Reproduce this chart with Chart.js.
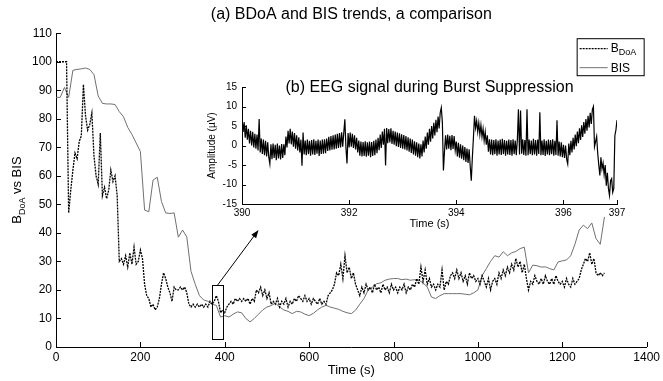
<!DOCTYPE html>
<html>
<head>
<meta charset="utf-8">
<script src="https://cdn.jsdelivr.net/npm/chart.js@4.4.1/dist/chart.umd.min.js"></script>
<style>
  html, body { margin: 0; padding: 0; background: #fff; }
  #wrap { position: relative; width: 663px; height: 381px; }
  #main { position: absolute; left: 0; top: 0; }
  #inset { position: absolute; left: 190px; top: 70px; }
</style>
</head>
<body>
<div id="wrap">
  <canvas id="main" width="663" height="381"></canvas>
  <canvas id="inset" width="440" height="165"></canvas>
</div>
<script>
const FONT = '"Liberation Sans", Arial, Helvetica, sans-serif';

// B_DoA, one reading every 5 s from 0 s
const bdoaStep = 5;
const bdoa = [
  100,100,100,100,100,100,47,55,62,68,66,72,74,92,81,76,78,82,67,60,
  57,75,53,56,52,55,62,58,60,53,30,31,29,32,28,33,29,35,29,30,
  34,31,22,18,17,14,15,13,14,17,22,26,24,21,19,16,21,20,20,21,
  20,21,19,15,14,15,14,15,14,15,14,15,14,16,15,16,18,16,12,13,
  12,14,15,16,15,17,16,17,16,17,16,17,15,17,16,20,19,21,18,20,
  17,19,15,16,15,17,14,16,15,17,14,16,15,17,16,18,17,16,18,16,
  17,15,17,16,15,17,15,16,15,18,19,20,22,26,25,29,24,32,26,28,
  24,26,22,20,18,21,19,22,20,21,19,22,20,21,19,22,20,21,19,22,
  20,21,19,21,20,22,19,21,20,22,21,24,22,28,23,27,22,24,21,22,
  20,22,21,27,20,23,22,25,26,24,27,24,26,23,25,22,26,24,25,23,
  24,22,25,23,21,24,20,23,24,22,26,24,27,25,28,26,29,27,31,28,
  30,26,29,24,20,23,22,25,23,22,24,22,25,23,22,24,22,25,23,22,
  23,21,24,22,21,24,22,23,24,27,29,31,30,33,29,31,26,25,26,25,
  26
];

// BIS, one reading every 10 s from 0 s
const bisStep = 10;
const bis = [
  87.5,87.5,91,87.5,97,97.3,97.5,97.8,97.3,95.5,
  88,85.4,85.2,85.2,85,82.5,80.7,77,74.5,71.5,
  68.5,48,47.4,58.5,59.5,51,47,46.8,47,38.5,
  41,38.6,26.5,22,18,16.5,16,15,14.6,10.5,
  11,10.5,11.5,12.3,12,10,8.8,10,11.5,13,
  14,14.5,15.4,14,13,12.5,11.7,12.5,12.3,11.5,
  11,11.8,13,14,14.6,14,13.6,13.2,12.5,12,
  11.7,12.9,15,17,20,21,22.2,22.5,23.4,23.8,
  24,24,23.6,23.8,23.4,23.6,23.4,22.5,21,17.5,
  17,18,18.7,18.7,18.7,18.7,18.7,18.5,18.3,19,
  20,25,27.5,30,32,31.5,33.4,32,33,33.5,
  34.5,35,26,28.7,28.5,28,28.1,27.5,27,29.8,
  30.2,30.5,32,36,41,42.7,41.5,43.5,38,36,
  45.6
];

const timeTicks = [0, 200, 400, 600, 800, 1000, 1200, 1400];
const levelTicks = [0, 10, 20, 30, 40, 50, 60, 70, 80, 90, 100, 110];

// EEG during burst suppression, one sample every 0.02 s from 390 s
const eegStart = 390;
const eegStep = 0.02;
const eeg = [
  7,3.5,6,2,5.2,1.5,4.3,0.5,3.8,0,3.5,-0.5,3,-0.8,2.8,-1.3,6.8,-1.8,1.8,-2.2,1.5,-2.5,1.2,-2.8,0.8,
  -3,-4.7,0.3,-3.5,0.5,-3.2,0.2,-3.8,0.5,-3.3,0,-3.6,0.4,-3.2,0.3,-2.5,2.3,-0.5,3.8,0.5,4.3,0.3,3.6,-0.3,3.2,
  -0.8,2.6,-1.3,2.1,-1.8,1.5,-5.2,3.3,-2.3,1.3,-2.5,1.5,-2.2,1.2,-2.6,1.4,-2.3,1.6,-2.4,1.2,-2.1,1.5,-2.7,1.3,-2.2,
  1.5,-2.1,1.6,-2,1.8,-1.4,2.2,-1.3,2.4,-1.1,2.6,-1,2.8,-0.8,3,-0.6,3.2,-0.5,3.4,-0.3,3.3,6.7,-0.5,-4.6,3.2,
  -0.5,3.3,-0.3,3,-0.6,2.6,-1,2,-1.8,1.3,-2.6,1,-2.8,0.9,-2.7,1.1,-2.9,0.8,-2.6,1,-3,0.9,-2.7,1.2,-2.5,
  1.5,-2,2,-1.2,2.8,-0.6,3.6,0.2,4.3,-5.1,4.5,0.6,4.2,0.8,4.4,0.4,3.8,0.2,3.6,-0.2,3.3,-0.4,3.1,-0.6,2.9,
  -0.8,2.7,-1,2.4,-1.3,2.1,-1.6,1.8,-1.9,1.5,-2.3,1.1,-2.6,0.8,-3,0.5,-3.3,0.3,-2.8,1.3,-1.8,2.3,-0.8,3.3,0.2,
  4.3,1,5,1.8,5.8,2.6,6.6,3.4,7.4,4.4,8.4,9.7,6,-6.4,-1.5,2.6,-1,2.8,-0.8,2.5,-1.2,2.7,-0.9,2.4,-1.2,
  1,-2.8,0.7,-3.1,0.3,-3.4,0,-3.8,-0.4,-4.2,-0.8,-4.5,-1,-5.3,-9,-3,2,7.6,4.5,6.3,3.5,5.8,2.8,5.2,2.2,
  4.3,1.2,3.5,0.2,2.6,-1.6,1.6,-2.3,1.5,-2.5,1.4,-2.2,1.6,-2.6,1.3,-2.3,1.5,-2.4,1.7,-2.2,1.4,-2.6,1.2,-2.3,1.5,
  -2.4,1.4,-2.6,1.6,-2.2,1.3,-2.5,1.5,9.3,-2.3,9,-2.1,1.6,-2.4,1.4,-2.6,9.3,-2.5,1.5,-2.2,1.3,-2.5,1.7,-2.3,1.4,
  -2.6,1.5,-2.2,8.5,-2.5,1.3,-2.4,1.6,-2.7,1.2,-2.3,1.5,-2.5,1.4,-2.2,1.6,-2.6,1.2,-2.4,6.5,-2.6,1,-2.8,0.8,-3,
  0.2,-3.2,0,-3.5,-4.7,0.5,-2.5,1.2,-1.8,2,-1,2.8,-0.2,3.6,0.6,4.4,1.4,5.2,2.2,6,3,6.8,3.8,7.6,4.6,
  8.4,5.5,9.2,10,-0.3,1,2.3,-2,-5,-7.7,-3,-6,-4.5,-7.5,-5,-10.3,-7,-11,-12.8,-9,-8.5,-12,-11,2.5,4,
  6.5
];
const eegTimeTicks = [390, 392, 394, 396, 397];
const eegAmpTicks = [-15, -10, -5, 0, 5, 10, 15];

// window shown in the inset: [t from, t to, low, high], arrow head at [t, value]
const zoomBox = [370, 395, 2.8, 21.6];
const arrowTo = [480, 41];

const toPoints = (vals, start, step) =>
  vals.map((v, i) => ({ x: +(start + i * step).toFixed(3), y: v }));

// MATLAB style ticks pointing into the plot
const inwardTicks = {
  id: 'inwardTicks',
  afterDraw(chart, args, opts) {
    const { ctx, chartArea } = chart;
    const xs = chart.scales.x, ys = chart.scales.y;
    const len = opts.len || 5;
    ctx.save();
    ctx.strokeStyle = '#000';
    ctx.lineWidth = 1;
    ctx.beginPath();
    xs.ticks.forEach(t => {
      const px = Math.round(xs.getPixelForValue(t.value)) + 0.5;
      ctx.moveTo(px, chartArea.bottom);
      ctx.lineTo(px, chartArea.bottom - len);
    });
    ys.ticks.forEach(t => {
      const py = Math.round(ys.getPixelForValue(t.value)) + 0.5;
      ctx.moveTo(chartArea.left, py);
      ctx.lineTo(chartArea.left + len, py);
    });
    ctx.stroke();
    ctx.restore();
  }
};

// y label with subscript, legend box, zoom window and arrow
const mainDecor = {
  id: 'mainDecor',
  afterDraw(chart) {
    const { ctx, chartArea } = chart;
    const xs = chart.scales.x, ys = chart.scales.y;
    ctx.save();
    ctx.fillStyle = '#000';

    // y axis label
    ctx.save();
    ctx.translate(21, (chartArea.top + chartArea.bottom) / 2);
    ctx.rotate(-Math.PI / 2);
    ctx.textBaseline = 'alphabetic';
    ctx.font = '13px ' + FONT;
    const wB = ctx.measureText('B').width;
    const wRest = ctx.measureText(' vs BIS').width;
    ctx.font = '9px ' + FONT;
    const wSub = ctx.measureText('DoA').width;
    let x0 = -(wB + wSub + wRest) / 2;
    ctx.font = '13px ' + FONT;
    ctx.fillText('B', x0, 0);
    ctx.font = '9px ' + FONT;
    ctx.fillText('DoA', x0 + wB, 4);
    ctx.font = '13px ' + FONT;
    ctx.fillText(' vs BIS', x0 + wB + wSub, 0);
    ctx.restore();

    // zoom window + arrow
    const rx0 = xs.getPixelForValue(zoomBox[0]), rx1 = xs.getPixelForValue(zoomBox[1]);
    const ry0 = ys.getPixelForValue(zoomBox[3]), ry1 = ys.getPixelForValue(zoomBox[2]);
    ctx.strokeStyle = '#000';
    ctx.lineWidth = 1;
    ctx.strokeRect(Math.round(rx0) + 0.5, Math.round(ry0) + 0.5, Math.round(rx1 - rx0), Math.round(ry1 - ry0));
    const ax0 = (rx0 + rx1) / 2, ay0 = ry0;
    const ax1 = xs.getPixelForValue(arrowTo[0]), ay1 = ys.getPixelForValue(arrowTo[1]);
    const ang = Math.atan2(ay1 - ay0, ax1 - ax0);
    ctx.beginPath();
    ctx.moveTo(ax0, ay0);
    ctx.lineTo(ax1 - 6 * Math.cos(ang), ay1 - 6 * Math.sin(ang));
    ctx.stroke();
    ctx.beginPath();
    ctx.moveTo(ax1, ay1);
    ctx.lineTo(ax1 - 8 * Math.cos(ang) + 3 * Math.sin(ang), ay1 - 8 * Math.sin(ang) - 3 * Math.cos(ang));
    ctx.lineTo(ax1 - 8 * Math.cos(ang) - 3 * Math.sin(ang), ay1 - 8 * Math.sin(ang) + 3 * Math.cos(ang));
    ctx.closePath();
    ctx.fill();

    // legend
    const lx = chartArea.right - 70, ly = chartArea.top + 5;
    ctx.strokeRect(lx + 0.5, ly + 0.5, 67, 37);
    chart.data.datasets.forEach((ds, i) => {
      const yy = ly + 10 + i * 19;
      ctx.save();
      ctx.strokeStyle = ds.borderColor;
      ctx.lineWidth = ds.borderWidth;
      ctx.setLineDash(ds.borderDash || []);
      ctx.beginPath();
      ctx.moveTo(lx + 3, yy + 0.5);
      ctx.lineTo(lx + 31, yy + 0.5);
      ctx.stroke();
      ctx.restore();
      ctx.textBaseline = 'alphabetic';
      ctx.font = '12px ' + FONT;
      if (ds.label === 'B_DoA') {
        ctx.fillText('B', lx + 34, yy + 4);
        const w = ctx.measureText('B').width;
        ctx.font = '9px ' + FONT;
        ctx.fillText('DoA', lx + 34 + w, yy + 7);
      } else {
        ctx.fillText(ds.label, lx + 34, yy + 5);
      }
    });
    ctx.restore();
  }
};

const tickFont = size => ({ family: FONT, size: size });

new Chart(document.getElementById('main'), {
  type: 'line',
  data: {
    datasets: [{
      label: 'B_DoA',
      data: toPoints(bdoa, 0, bdoaStep),
      borderColor: '#000',
      borderWidth: 1.3,
      borderDash: [2, 1],
      pointRadius: 0,
      tension: 0
    }, {
      label: 'BIS',
      data: toPoints(bis, 0, bisStep),
      borderColor: '#707070',
      borderWidth: 1,
      pointRadius: 0,
      tension: 0
    }]
  },
  options: {
    responsive: false,
    animation: false,
    layout: { padding: { top: 0, right: 14, left: 0, bottom: 0 } },
    plugins: {
      legend: { display: false },
      tooltip: { enabled: false },
      title: {
        display: true,
        fullSize: false,
        text: '(a) BDoA and BIS trends, a comparison',
        color: '#000',
        font: { family: FONT, size: 16, weight: 'normal' },
        padding: { top: 5, bottom: 9 }
      },
      inwardTicks: { len: 5 }
    },
    scales: {
      x: {
        type: 'linear',
        min: 0, max: 1400,
        afterBuildTicks: s => { s.ticks = timeTicks.map(v => ({ value: v })); },
        afterFit: s => { s.height = 34; },
        grid: { display: false, drawTicks: false },
        border: { display: true, color: '#000', width: 1 },
        ticks: { padding: 3, color: '#000', font: tickFont(12), maxRotation: 0, autoSkip: false, callback: v => String(v) },
        title: { display: true, text: 'Time (s)', color: '#000', font: tickFont(13), padding: { top: 0, bottom: 3 } }
      },
      y: {
        type: 'linear',
        min: 0, max: 110,
        afterBuildTicks: s => { s.ticks = levelTicks.map(v => ({ value: v })); },
        afterFit: s => { s.width = 56; },
        grid: { display: false, drawTicks: false },
        border: { display: true, color: '#000', width: 1 },
        ticks: { padding: 4, color: '#000', font: tickFont(12), autoSkip: false, callback: v => String(v) }
      }
    }
  },
  plugins: [inwardTicks, mainDecor]
});

const insetTitle = {
  id: 'insetTitle',
  afterDraw(chart) {
    const { ctx, chartArea } = chart;
    ctx.save();
    ctx.fillStyle = '#000';
    ctx.font = '16px ' + FONT;
    ctx.textAlign = 'center';
    ctx.textBaseline = 'middle';
    ctx.fillText('(b) EEG signal during Burst Suppression', (chartArea.left + chartArea.right) / 2, chartArea.top + 1);
    ctx.restore();
  }
};

new Chart(document.getElementById('inset'), {
  type: 'line',
  data: {
    datasets: [{
      label: 'EEG',
      data: toPoints(eeg, eegStart, eegStep),
      borderColor: '#000',
      borderWidth: 1.2,
      pointRadius: 0,
      tension: 0
    }]
  },
  options: {
    responsive: false,
    animation: false,
    layout: { padding: { top: 17, right: 13, left: 0, bottom: 0 } },
    plugins: {
      legend: { display: false },
      tooltip: { enabled: false },
      inwardTicks: { len: 4 }
    },
    scales: {
      x: {
        type: 'linear',
        min: 390, max: 397,
        afterBuildTicks: s => { s.ticks = eegTimeTicks.map(v => ({ value: v })); },
        afterFit: s => { s.height = 31; },
        grid: { display: false, drawTicks: false },
        border: { display: true, color: '#000', width: 1 },
        ticks: { padding: 3, color: '#000', font: tickFont(10), maxRotation: 0, autoSkip: false, callback: v => String(v) },
        title: { display: true, text: 'Time (s)', color: '#000', font: tickFont(11), padding: { top: 0, bottom: 4 } }
      },
      y: {
        type: 'linear',
        min: -15, max: 15,
        afterBuildTicks: s => { s.ticks = eegAmpTicks.map(v => ({ value: v })); },
        afterFit: s => { s.width = 52; },
        grid: { display: false, drawTicks: false },
        border: { display: true, color: '#000', width: 1 },
        ticks: { padding: 5, color: '#000', font: tickFont(10), autoSkip: false, callback: v => String(v) },
        title: { display: true, text: 'Amplitude (\u00b5V)', color: '#000', font: tickFont(10), padding: { top: 16, bottom: 0 } }
      }
    }
  },
  plugins: [inwardTicks, insetTitle]
});
</script>
</body>
</html>
